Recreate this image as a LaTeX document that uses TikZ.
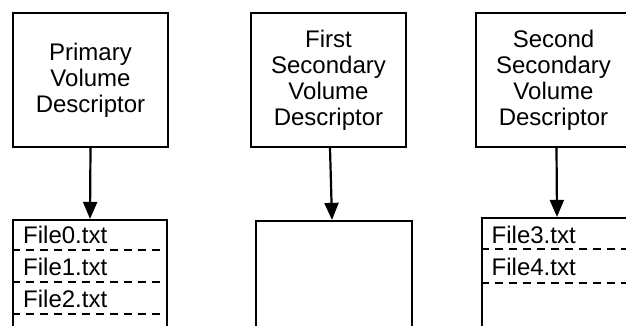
\documentclass[tikz,border=0pt]{standalone}
\usepackage{fontspec}
\setmainfont{Liberation Sans}
\usetikzlibrary{arrows.meta}
\tikzset{
  vbox/.style={draw, line width=2.2pt, minimum width=155pt, minimum height=134pt, inner sep=0pt,
    align=center, font=\fontsize{24}{26}\selectfont},
  lowbox/.style={draw, line width=2.2pt, minimum height=160pt, inner sep=0pt},
  arr/.style={line width=2.2pt, -{Triangle[length=17pt,width=14pt]}},
  sep/.style={line width=2.2pt, dash pattern=on 8pt off 6pt},
  ftext/.style={anchor=base west, inner sep=0pt, font=\fontsize{24}{26}\selectfont}
}
\begin{document}
\begin{tikzpicture}[x=1pt,y=-1pt]
\clip (0,0) rectangle (626,326);
% top boxes
\node[vbox] (t1) at (90.5,80) {Primary\\Volume\\Descriptor};
\node[vbox] (t2) at (328.5,80) {First\\Secondary\\Volume\\Descriptor};
\node[vbox] (t3) at (553.5,80) {Second\\Secondary\\Volume\\Descriptor};
% lower boxes
\node[lowbox, minimum width=154pt] (b1) at (90,300) {};
\node[lowbox, minimum width=156pt] (b2) at (334,301) {};
\node[lowbox, minimum width=155pt] (b3) at (559.5,298) {};
% arrows
\draw[arr] (t1.south) -- (b1.north);
\draw[arr] ([xshift=1.5pt]t2.south) -- ([xshift=-2pt]b2.north);
\draw[arr] ([xshift=3pt]t3.south) -- ([xshift=-2.5pt]b3.north);
% separators
\draw[sep] ([yshift=-31pt]b1.north west) -- ([yshift=-31pt]b1.north east);
\draw[sep] ([yshift=-63pt]b1.north west) -- ([yshift=-63pt]b1.north east);
\draw[sep] ([yshift=-95pt]b1.north west) -- ([yshift=-95pt]b1.north east);
\draw[sep] ([yshift=-32pt]b3.north west) -- ([yshift=-32pt]b3.north east);
\draw[sep] ([yshift=-66pt]b3.north west) -- ([yshift=-66pt]b3.north east);
% file names
\node[ftext] (f0) at (23,243) {File0.txt};
\node[ftext] (f1) at (23,275) {File1.txt};
\node[ftext] (f2) at (23,307) {File2.txt};
\node[ftext] (f3) at (491.5,243) {File3.txt};
\node[ftext] (f4) at (491.5,275) {File4.txt};
\end{tikzpicture}
\end{document}
